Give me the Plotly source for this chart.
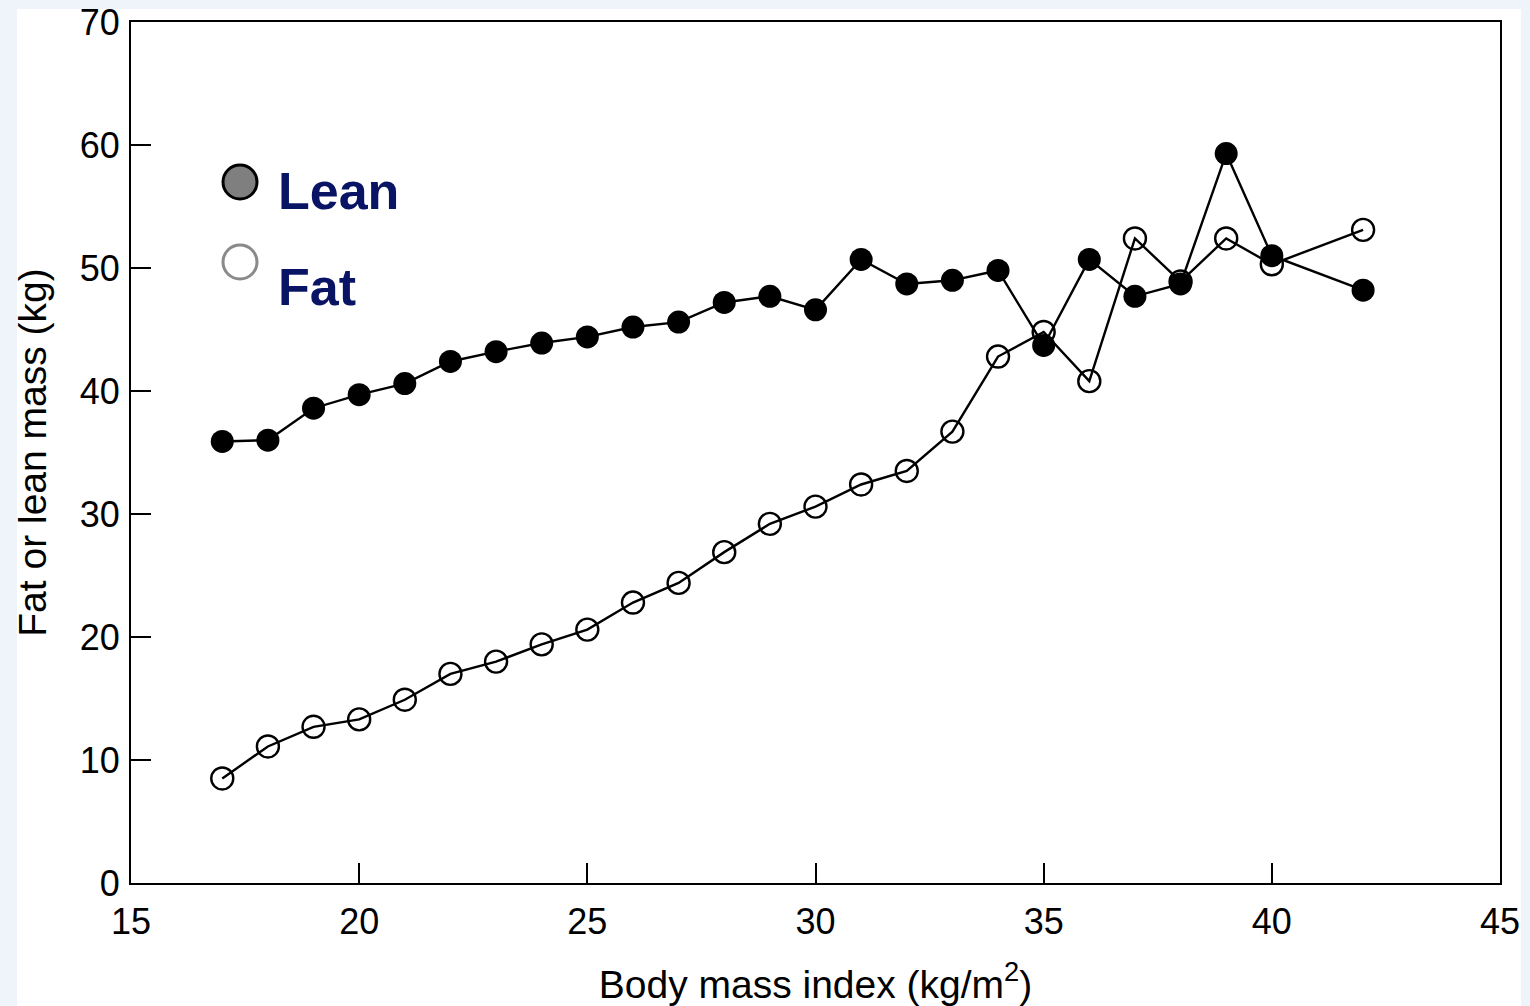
import plotly.graph_objects as go

bmi = [17, 18, 19, 20, 21, 22, 23, 24, 25, 26, 27, 28, 29, 30, 31, 32, 33, 34, 35, 36, 37, 38, 39, 40, 42]
lean = [35.9, 36.0, 38.6, 39.7, 40.6, 42.4, 43.2, 43.9, 44.4, 45.2, 45.6, 47.2, 47.7, 46.6, 50.7,
        48.7, 49.0, 49.8, 43.7, 50.7, 47.7, 48.7, 59.3, 51.0, 48.2]
fat = [8.5, 11.1, 12.7, 13.3, 14.9, 17.0, 18.0, 19.4, 20.6, 22.8, 24.4, 26.9, 29.2, 30.6, 32.4,
       33.5, 36.7, 42.8, 44.8, 40.8, 52.4, 48.9, 52.4, 50.3, 53.1]
x_ticks = [15, 20, 25, 30, 35, 40, 45]
y_ticks = [0, 10, 20, 30, 40, 50, 60, 70]

FONT = "Liberation Sans, Arial, Helvetica, sans-serif"

fig = go.Figure()
fig.add_trace(go.Scatter(
    x=bmi, y=fat, mode="lines+markers", name="Fat", showlegend=False,
    line=dict(color="black", width=2.4),
    marker=dict(symbol="circle-open", size=22, color="black", line=dict(width=2.4)),
))
fig.add_trace(go.Scatter(
    x=bmi, y=lean, mode="lines+markers", name="Lean", showlegend=False,
    line=dict(color="black", width=2.4),
    marker=dict(symbol="circle", size=23, color="black"),
))

# background: light blue outer frame with white panel
fig.add_shape(type="rect", xref="paper", yref="paper", layer="below",
              x0=-0.0833, x1=1.0153, y0=-0.1429, y1=1.0151,
              fillcolor="white", line=dict(width=0))

# custom legend
fig.add_shape(type="circle", xref="paper", yref="paper",
              x0=(223 - 131) / 1369, x1=(257 - 131) / 1369,
              y0=(883 - 199) / 861, y1=(883 - 165) / 861,
              fillcolor="#7f7f7f", line=dict(color="black", width=3))
fig.add_shape(type="circle", xref="paper", yref="paper",
              x0=(223 - 131) / 1369, x1=(257 - 131) / 1369,
              y0=(883 - 279) / 861, y1=(883 - 245) / 861,
              fillcolor="white", line=dict(color="#8a8a8a", width=3))
fig.add_annotation(xref="paper", yref="paper", x=(276 - 131) / 1369, y=(883 - 191) / 861,
                   xanchor="left", yanchor="middle", showarrow=False,
                   text="<b>Lean</b>", font=dict(family=FONT, size=52, color="#0a1464"))
fig.add_annotation(xref="paper", yref="paper", x=(276 - 131) / 1369, y=(883 - 287) / 861,
                   xanchor="left", yanchor="middle", showarrow=False,
                   text="<b>Fat</b>", font=dict(family=FONT, size=52, color="#0a1464"))

axis_common = dict(
    showgrid=False, zeroline=False, showline=True, linecolor="black", linewidth=2,
    mirror=True, ticks="inside", ticklen=20, tickwidth=2, tickcolor="black",
    tickfont=dict(family=FONT, size=36, color="black"), automargin=False,
)
fig.update_xaxes(range=[15, 45], tickvals=x_ticks, ticktext=[str(v) for v in x_ticks],
                 ticklabelstandoff=6,
                 title=dict(text="Body mass index (kg/m<sup>2</sup>)",
                            font=dict(family=FONT, size=39, color="black"), standoff=29),
                 **axis_common)
fig.update_yaxes(range=[0, 70], tickvals=y_ticks, ticktext=[str(v) for v in y_ticks],
                 ticklabelstandoff=2,
                 title=dict(text="Fat or lean mass (kg)",
                            font=dict(family=FONT, size=39, color="black"), standoff=21),
                 **axis_common)

fig.update_layout(
    width=1530, height=1006,
    margin=dict(l=131, r=30, t=22, b=123),
    paper_bgcolor="#eef4fa", plot_bgcolor="white",
    font=dict(family=FONT, color="black"),
)

fig.write_html("out.html")
